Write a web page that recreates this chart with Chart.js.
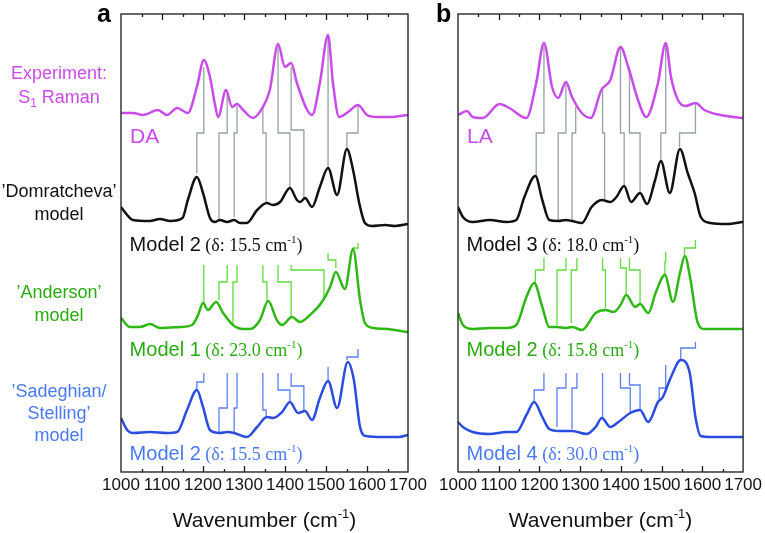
<!DOCTYPE html>
<html>
<head>
<meta charset="utf-8">
<script src="https://cdn.jsdelivr.net/npm/chart.js@4.4.1/dist/chart.umd.min.js"></script>
<style>
  html, body { margin: 0; padding: 0; background: #fff; }
  #wrap { position: relative; width: 765px; height: 533px; overflow: hidden; }
  #chartA { position: absolute; left: 0; top: 0; }
  #chartB { position: absolute; left: 430px; top: 0; }
</style>
</head>
<body>
<div id="wrap">
  <canvas id="chartA" width="430" height="533"></canvas>
  <canvas id="chartB" width="335" height="533"></canvas>
</div>
<script>
'use strict';

// x ticks (wavenumber, cm-1)
const xTicks = [1000, 1100, 1200, 1300, 1400, 1500, 1600, 1700];

// spectra: [wavenumber, stacked intensity (a.u.)]
// panel a (DA)
const aExp = [[1000,359],[1029,359],[1054,357],[1090,362],[1112,357],[1137,364],[1163,359],[1185,385],[1202,412],[1217,395],[1228,370],[1237,355],[1256,382],[1271,365],[1283,368],[1298,362],[1322,354],[1346,365],[1363,382],[1383,428],[1400,405],[1415,409],[1429,389],[1454,362],[1466,357],[1485,389],[1505,437],[1517,389],[1532,355],[1554,360],[1578,367],[1600,357],[1624,355],[1656,355],[1700,357]];
const aDom = [[1000,265],[1015,257],[1029,252],[1070,251],[1095,253],[1120,251],[1150,254],[1163,272],[1185,295],[1200,279],[1217,254],[1229,250],[1241,252],[1259,250],[1276,252],[1290,249],[1307,249],[1332,262],[1356,269],[1370,267],[1388,270],[1412,284],[1429,272],[1437,270],[1449,274],[1466,265],[1485,285],[1505,304],[1527,277],[1551,323],[1566,302],[1581,269],[1595,249],[1612,246],[1644,247],[1668,246],[1700,248]];
const aAnd = [[1000,154],[1022,145],[1046,145],[1071,148],[1095,144],[1144,145],[1173,147],[1188,157],[1200,169],[1212,162],[1232,170],[1249,159],[1273,147],[1298,143],[1315,143],[1339,152],[1359,171],[1380,152],[1393,147],[1417,155],[1437,150],[1461,157],[1490,170],[1510,185],[1524,200],[1546,183],[1566,223],[1583,172],[1595,149],[1615,144],[1649,143],[1700,140]];
const aSad = [[1000,54],[1015,42],[1029,39],[1071,40],[1112,39],[1137,40],[1161,62],[1185,82],[1200,65],[1217,42],[1241,39],[1259,40],[1276,39],[1307,35],[1332,45],[1356,55],[1371,54],[1393,60],[1412,70],[1432,59],[1449,61],[1466,52],[1485,74],[1505,91],[1527,64],[1553,110],[1568,92],[1583,45],[1598,36],[1637,35],[1678,35],[1700,37]];

// panel b (LA)
const bExp = [[1000,357],[1022,361],[1036,355],[1061,354],[1102,368],[1126,364],[1168,354],[1192,389],[1211,429],[1231,385],[1246,374],[1265,390],[1280,375],[1304,359],[1326,354],[1352,382],[1374,392],[1399,425],[1418,405],[1442,372],[1462,355],[1491,389],[1510,429],[1523,395],[1540,372],[1559,366],[1583,369],[1605,362],[1644,357],[1700,354]];
const bDom = [[1000,265],[1012,255],[1036,250],[1078,252],[1119,250],[1143,252],[1163,275],[1190,296],[1207,272],[1224,252],[1246,251],[1265,252],[1280,251],[1304,249],[1328,265],[1353,272],[1374,270],[1389,275],[1408,286],[1425,270],[1447,279],[1464,268],[1484,292],[1498,311],[1520,279],[1545,323],[1564,299],[1581,279],[1596,255],[1620,249],[1661,248],[1700,250]];
const bAnd = [[1000,159],[1012,147],[1036,143],[1078,144],[1119,144],[1143,147],[1168,175],[1187,189],[1207,165],[1224,145],[1243,145],[1265,144],[1280,145],[1304,142],[1338,159],[1362,162],[1382,160],[1399,167],[1413,177],[1435,165],[1447,168],[1467,159],[1486,180],[1508,197],[1528,170],[1545,199],[1557,216],[1571,192],[1588,150],[1605,143],[1644,143],[1700,143]];
const bSad = [[1000,50],[1012,45],[1036,40],[1078,38],[1119,40],[1143,40],[1168,57],[1187,70],[1207,55],[1224,43],[1248,41],[1280,41],[1316,38],[1338,45],[1353,54],[1374,45],[1394,50],[1423,59],[1447,62],[1467,50],[1491,70],[1503,75],[1523,95],[1547,112],[1569,99],[1583,55],[1596,36],[1620,35],[1700,35]];

// peak assignment brackets: [top x, top y, jog y, bottom x, bottom y]
const aGray = [[1202,405,339,1185,299],[1259,382,339,1239,252],[1283,366,339,1276,255],[1346,365,339,1354,269],[1383,428,339,1412,284],[1415,405,342,1446,275],[1505,437,339,1505,304],[1578,367,339,1551,324]];
const aGreen = [[1202,207,207,1202,169],[1259,207,190,1239,172],[1283,207,190,1273,147],[1346,207,190,1356,171],[1383,207,190,1415,155],[1415,207,202,1495,172],[1505,219,212,1524,204],[1578,229,224,1566,222]];
const aBlue = [[1202,99,90,1185,82],[1259,99,64,1239,40],[1283,99,64,1276,40],[1346,99,62,1354,55],[1383,99,82,1412,70],[1415,99,86,1446,62],[1505,105,105,1505,91],[1578,123,115,1551,112]];
const bGray = [[1211,427,339,1192,297],[1265,389,339,1246,252],[1289,365,339,1280,252],[1355,382,339,1360,273],[1399,425,339,1408,285],[1421,402,339,1447,279],[1510,429,339,1498,312],[1583,369,339,1544,325]];
const bGreen = [[1211,214,202,1190,189],[1265,214,202,1243,147],[1292,214,202,1278,149],[1355,214,202,1362,164],[1399,214,204,1413,177],[1421,214,202,1447,167],[1510,220,210,1508,197],[1583,232,224,1556,216]];
const bBlue = [[1211,99,82,1187,70],[1265,99,84,1243,45],[1292,99,84,1280,43],[1355,99,99,1355,54],[1399,99,84,1423,59],[1421,99,87,1447,62],[1510,107,84,1494,72],[1583,130,124,1547,112]];

// text
const aModels = ['Model 2', 'Model 1', 'Model 2'];
const aDeltas = ['15.5', '23.0', '15.5'];
const bModels = ['Model 3', 'Model 2', 'Model 4'];
const bDeltas = ['18.0', '15.8', '30.0'];
const sideLabels = [
  ['Experiment:', 'S|1| Raman'],
  ['\u2019Domratcheva\u2019', 'model'],
  ['\u2019Anderson\u2019', 'model'],
  ['\u2019Sadeghian/', 'Stelling\u2019', 'model']
];

const SANS = 'Arial, "Liberation Sans", sans-serif';
const SERIF = '"Times New Roman", "Liberation Serif", serif';
const colors = ['#c94ce8', '#111111', '#2eb814', '#2a4de0'];
const textColors = ['#c94ce8', '#111111', '#2aaa10', '#4a7af0'];
const bracketColors = ['#95a2a2', '#5fdc3c', '#5a80f0'];

function toPoints(arr) {
  return arr.map(p => ({x: p[0], y: p[1]}));
}

function bracketPoints(arr) {
  let pts = [];
  arr.forEach(b => {
    pts.push({x: b[0], y: b[1]}, {x: b[0], y: b[2]}, {x: b[3], y: b[2]}, {x: b[3], y: b[4]}, {x: b[3], y: null});
  });
  return pts;
}

function richText(ctx, x, y, parts, align) {
  let w = 0;
  parts.forEach(p => { ctx.font = p.font; w += ctx.measureText(p.t).width; });
  let cx = align === 'center' ? x - w / 2 : x;
  ctx.textAlign = 'left';
  ctx.textBaseline = 'alphabetic';
  parts.forEach(p => {
    ctx.font = p.font;
    ctx.fillStyle = p.color;
    ctx.fillText(p.t, cx, y + (p.dy || 0));
    cx += ctx.measureText(p.t).width;
  });
}

function modelParts(name, delta, color) {
  return [
    {t: name, font: '20px ' + SANS, color: color},
    {t: ' (\u03b4: ' + delta + ' cm', font: '18px ' + SERIF, color: color},
    {t: '-1', font: '11px ' + SERIF, color: color, dy: -8},
    {t: ')', font: '18px ' + SERIF, color: color}
  ];
}

// box, inside ticks and labels
const decor = {
  id: 'decor',
  afterDatasetsDraw(chart, args, opts) {
    const ctx = chart.ctx;
    const a = chart.chartArea;
    const xs = chart.scales.x;
    ctx.save();
    ctx.strokeStyle = '#1a1a1a';
    ctx.lineWidth = 1.3;
    ctx.strokeRect(a.left, a.top, a.right - a.left, a.bottom - a.top);
    for (let v = 1050; v < 1700; v += 50) {
      const px = Math.round(xs.getPixelForValue(v)) + 0.5;
      const len = v % 100 === 0 ? 6 : 3;
      ctx.beginPath();
      ctx.moveTo(px, a.bottom); ctx.lineTo(px, a.bottom - len);
      ctx.moveTo(px, a.top); ctx.lineTo(px, a.top + len);
      ctx.stroke();
    }
    ctx.restore();
  },
  afterDraw(chart, args, opts) {
    const ctx = chart.ctx;
    const a = chart.chartArea;
    const xs = chart.scales.x;
    const ys = chart.scales.y;
    ctx.save();
    // panel letter
    ctx.font = 'bold 25px ' + SANS;
    ctx.fillStyle = '#000';
    ctx.textAlign = 'left';
    ctx.textBaseline = 'alphabetic';
    ctx.fillText(opts.letter, opts.letterX, 22);
    // sample tag
    ctx.font = '21px ' + SANS;
    ctx.fillStyle = textColors[0];
    ctx.fillText(opts.tag, xs.getPixelForValue(1022), ys.getPixelForValue(329));
    // model labels
    const base = [221, 116, 12];
    opts.models.forEach((m, i) => {
      richText(ctx, xs.getPixelForValue(1021), ys.getPixelForValue(base[i]), modelParts(m, opts.deltas[i], textColors[i + 1]), 'left');
    });
    // axis title
    richText(ctx, (a.left + a.right) / 2, 527, [
      {t: 'Wavenumber (cm', font: '21px ' + SANS, color: '#111'},
      {t: '-1', font: '13px ' + SANS, color: '#111', dy: -9},
      {t: ')', font: '21px ' + SANS, color: '#111'}
    ], 'center');
    // side labels
    if (opts.side) {
      const lines = [[79, 103], [197, 220], [298, 321], [397, 419, 441]];
      sideLabels.forEach((group, gi) => {
        group.forEach((txt, li) => {
          const f = '18px ' + SANS;
          let parts;
          if (txt.indexOf('|') >= 0) {
            const s = txt.split('|');
            parts = [{t: s[0], font: f, color: textColors[gi]}, {t: s[1], font: '12px ' + SANS, color: textColors[gi], dy: 4}, {t: s[2], font: f, color: textColors[gi]}];
          } else {
            parts = [{t: txt, font: f, color: textColors[gi]}];
          }
          richText(ctx, 59, lines[gi][li], parts, 'center');
        });
      });
    }
    ctx.restore();
  }
};

function makeChart(id, spectra, brackets, opts, pad) {
  const datasets = [];
  brackets.forEach((br, i) => {
    datasets.push({
      data: bracketPoints(br),
      borderColor: bracketColors[i],
      borderWidth: 1.3,
      tension: 0,
      spanGaps: false,
      pointRadius: 0,
      order: 2
    });
  });
  spectra.forEach((s, i) => {
    datasets.push({
      data: toPoints(s),
      borderColor: colors[i],
      borderWidth: 2.5,
      cubicInterpolationMode: 'monotone',
      pointRadius: 0,
      order: 1
    });
  });
  return new Chart(document.getElementById(id), {
    type: 'line',
    data: {datasets: datasets},
    plugins: [decor],
    options: {
      responsive: false,
      animation: false,
      layout: {padding: pad},
      plugins: {legend: {display: false}, tooltip: {enabled: false}, decor: opts},
      scales: {
        x: {
          type: 'linear',
          min: 1000,
          max: 1700,
          afterBuildTicks: (s) => { s.ticks = xTicks.map(v => ({value: v})); },
          grid: {display: false, drawTicks: false},
          border: {display: false},
          ticks: {
            color: '#111',
            padding: 3,
            maxRotation: 0,
            autoSkip: false,
            font: {family: SANS, size: 17},
            callback: (v) => String(v)
          },
          afterFit: (s) => { s.height = 61; }
        },
        y: {display: false, min: 0, max: 458}
      }
    }
  });
}

makeChart('chartA', [aExp, aDom, aAnd, aSad], [aGray, aGreen, aBlue],
  {letter: 'a', letterX: 97, tag: 'DA', models: aModels, deltas: aDeltas, side: true},
  {left: 121, right: 22, top: 14, bottom: 0});
makeChart('chartB', [bExp, bDom, bAnd, bSad], [bGray, bGreen, bBlue],
  {letter: 'b', letterX: 6, tag: 'LA', models: bModels, deltas: bDeltas, side: false},
  {left: 28, right: 19, top: 14, bottom: 0});
</script>
</body>
</html>
